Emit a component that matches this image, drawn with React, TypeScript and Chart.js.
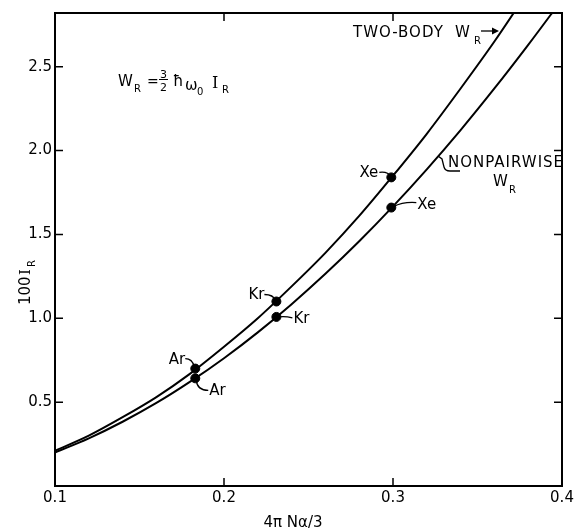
import React, { useEffect, useRef } from "react";
import { Chart, registerables } from "chart.js";

Chart.register(...registerables);

// Two-body W_R curve
const twoBodyX = [0.1, 0.12, 0.14, 0.16, 0.18, 0.2, 0.22, 0.24, 0.26, 0.28, 0.3, 0.32, 0.34, 0.36, 0.38];
const twoBodyY = [0.21, 0.3, 0.41, 0.53, 0.67, 0.83, 1.0, 1.19, 1.39, 1.61, 1.85, 2.1, 2.37, 2.65, 2.95];
// Nonpairwise W_R curve
const nonPairX = [0.1, 0.12, 0.14, 0.16, 0.18, 0.2, 0.22, 0.24, 0.26, 0.28, 0.3, 0.32, 0.34, 0.36, 0.38, 0.4];
const nonPairY = [0.2, 0.284, 0.383, 0.495, 0.622, 0.762, 0.916, 1.084, 1.265, 1.459, 1.667, 1.888, 2.122, 2.37, 2.63, 2.9];
// Rare gases
const gasNames = ["Ar", "Kr", "Xe"];
const gasX = [0.183, 0.231, 0.299];
const gasTwoBody = [0.7, 1.1, 1.84];
const gasNonPair = [0.642, 1.008, 1.66];
// Axes
const xTicks = [0.1, 0.2, 0.3, 0.4];
const yTicks = [0.5, 1.0, 1.5, 2.0, 2.5];
const xRange = [0.1, 0.4];
const yRange = [0, 2.82];

const SANS = "'DejaVu Sans', sans-serif";
const SERIF = "'DejaVu Serif', serif";

const annotations = {
  id: "annotations",
  afterDraw(chart: any) {
    const { ctx, chartArea: a, scales } = chart;
    const xs = scales.x;
    const ys = scales.y;
    ctx.save();
    ctx.strokeStyle = "#000";
    ctx.fillStyle = "#000";
    ctx.lineCap = "butt";

    // frame
    ctx.lineWidth = 2;
    ctx.strokeRect(a.left, a.top, a.right - a.left, a.bottom - a.top);

    // inward ticks on all four sides
    ctx.lineWidth = 1.5;
    const tl = 8;
    xTicks.forEach((v) => {
      const p = xs.getPixelForValue(v);
      ctx.beginPath();
      ctx.moveTo(p, a.bottom);
      ctx.lineTo(p, a.bottom - tl);
      ctx.moveTo(p, a.top);
      ctx.lineTo(p, a.top + tl);
      ctx.stroke();
    });
    yTicks.forEach((v) => {
      const p = ys.getPixelForValue(v);
      ctx.beginPath();
      ctx.moveTo(a.left, p);
      ctx.lineTo(a.left + tl, p);
      ctx.moveTo(a.right, p);
      ctx.lineTo(a.right - tl, p);
      ctx.stroke();
    });

    const txt = (s: string, x: number, y: number, size: number, family = SANS, align: CanvasTextAlign = "left", base: CanvasTextBaseline = "alphabetic") => {
      ctx.font = `${size}px ${family}`;
      ctx.textAlign = align;
      ctx.textBaseline = base;
      ctx.fillText(s, x, y);
    };

    // gas labels with leaders
    ctx.lineWidth = 1.3;
    const up = gasX.map((v, i) => [xs.getPixelForValue(v), ys.getPixelForValue(gasTwoBody[i])]);
    const lo = gasX.map((v, i) => [xs.getPixelForValue(v), ys.getPixelForValue(gasNonPair[i])]);

    // upper Ar
    {
      const [dx, dy] = up[0];
      txt(gasNames[0], dx - 10, dy - 5, 15, SANS, "right");
      ctx.beginPath();
      ctx.moveTo(dx - 10, dy - 10);
      ctx.quadraticCurveTo(dx - 3, dy - 10, dx - 1, dy - 2);
      ctx.stroke();
    }
    // lower Ar
    {
      const [dx, dy] = lo[0];
      txt(gasNames[0], dx + 14, dy + 17, 15, SANS, "left");
      ctx.beginPath();
      ctx.moveTo(dx + 1, dy + 2);
      ctx.quadraticCurveTo(dx + 2, dy + 12, dx + 13, dy + 12);
      ctx.stroke();
    }
    // upper Kr
    {
      const [dx, dy] = up[1];
      txt(gasNames[1], dx - 12, dy - 2, 15, SANS, "right");
      ctx.beginPath();
      ctx.moveTo(dx - 12, dy - 7);
      ctx.quadraticCurveTo(dx - 3, dy - 7, dx - 1, dy - 1);
      ctx.stroke();
    }
    // lower Kr
    {
      const [dx, dy] = lo[1];
      txt(gasNames[1], dx + 17, dy + 6, 15, SANS, "left");
      ctx.beginPath();
      ctx.moveTo(dx + 2, dy);
      ctx.quadraticCurveTo(dx + 9, dy - 1, dx + 16, dy + 1);
      ctx.stroke();
    }
    // upper Xe
    {
      const [dx, dy] = up[2];
      txt(gasNames[2], dx - 13, dy, 15, SANS, "right");
      ctx.beginPath();
      ctx.moveTo(dx - 12, dy - 5);
      ctx.quadraticCurveTo(dx - 3, dy - 6, dx - 1, dy - 1);
      ctx.stroke();
    }
    // lower Xe
    {
      const [dx, dy] = lo[2];
      txt(gasNames[2], dx + 26, dy + 1, 15, SANS, "left");
      ctx.beginPath();
      ctx.moveTo(dx + 2, dy - 1);
      ctx.quadraticCurveTo(dx + 12, dy - 6, dx + 25, dy - 5);
      ctx.stroke();
    }

    // formula W_R = 3/2 ħ ω0 I_R
    {
      const L = a.left + 63;
      const B = a.top + 73;
      txt("W", L, B, 15);
      txt("R", L + 16, B + 6, 10);
      txt("=", L + 29, B, 14);
      txt("3", L + 42, B - 8, 11);
      ctx.lineWidth = 1;
      ctx.beginPath();
      ctx.moveTo(L + 41, B - 6.5);
      ctx.lineTo(L + 50, B - 6.5);
      ctx.stroke();
      txt("2", L + 42, B + 5, 11);
      txt("ħ", L + 55, B, 15);
      txt("ω", L + 67, B + 4, 15);
      txt("0", L + 79, B + 9, 10);
      txt("I", L + 94, B + 2, 16, SERIF);
      txt("R", L + 104, B + 7, 10);
    }

    ctx.save();
    (ctx as any).letterSpacing = "1px";
    // TWO-BODY W_R ->
    {
      const L = a.left + 298;
      const B = a.top + 24;
      txt("TWO-BODY", L, B, 15);
      txt("W", L + 102, B, 15);
      txt("R", L + 121, B + 7, 10);
      ctx.lineWidth = 1.3;
      ctx.beginPath();
      ctx.moveTo(L + 128, B - 6);
      ctx.lineTo(L + 144, B - 6);
      ctx.stroke();
      ctx.beginPath();
      ctx.moveTo(L + 146, B - 6);
      ctx.lineTo(L + 139, B - 9.5);
      ctx.lineTo(L + 139, B - 2.5);
      ctx.closePath();
      ctx.fill();
    }
    // NONPAIRWISE W_R
    {
      const L = a.left + 393;
      const B = a.top + 154;
      txt("NONPAIRWISE", L, B, 15);
      txt("W", L + 45, B + 19, 15);
      txt("R", L + 61, B + 26, 10);
      ctx.lineWidth = 1.3;
      ctx.beginPath();
      ctx.moveTo(L - 10, B - 11);
      ctx.lineTo(L - 6, B - 8);
      ctx.lineTo(L - 4, B);
      ctx.quadraticCurveTo(L - 3, B + 4, L + 2, B + 4);
      ctx.lineTo(L + 12, B + 4);
      ctx.stroke();
    }
    ctx.restore();

    // axis titles
    txt("4π Nα/3", a.left + 238, a.bottom + 41, 15, SANS, "center");
    {
      ctx.save();
      ctx.translate(a.left - 30, a.top + 268);
      ctx.rotate(-Math.PI / 2);
      txt("100", -24, 5, 15);
      txt("I", 6, 5, 15, SERIF);
      txt("R", 14, 10, 10);
      ctx.restore();
    }

    ctx.restore();
  },
};

export default function App() {
  const ref = useRef<HTMLCanvasElement | null>(null);
  useEffect(() => {
    if (!ref.current) return;
    const chart = new Chart(ref.current, {
      type: "line",
      data: {
        datasets: [
          {
            label: "Two-body",
            data: twoBodyX.map((x, i) => ({ x, y: twoBodyY[i] })),
            borderColor: "#000",
            borderWidth: 2,
            pointRadius: 0,
            cubicInterpolationMode: "monotone",
            fill: false,
          },
          {
            label: "Nonpairwise",
            data: nonPairX.map((x, i) => ({ x, y: nonPairY[i] })),
            borderColor: "#000",
            borderWidth: 2,
            pointRadius: 0,
            cubicInterpolationMode: "monotone",
            fill: false,
          },
          {
            label: "Gases two-body",
            data: gasX.map((x, i) => ({ x, y: gasTwoBody[i] })),
            showLine: false,
            pointRadius: 4.5,
            pointBackgroundColor: "#000",
            pointBorderColor: "#000",
          },
          {
            label: "Gases nonpairwise",
            data: gasX.map((x, i) => ({ x, y: gasNonPair[i] })),
            showLine: false,
            pointRadius: 4.5,
            pointBackgroundColor: "#000",
            pointBorderColor: "#000",
          },
        ],
      },
      options: {
        animation: false,
        responsive: true,
        maintainAspectRatio: false,
        layout: { padding: { top: 13, right: 12, left: 0, bottom: 0 } },
        plugins: { legend: { display: false }, tooltip: { enabled: false } },
        scales: {
          x: {
            type: "linear",
            min: xRange[0],
            max: xRange[1],
            grid: { display: false, drawTicks: false },
            border: { display: false },
            afterBuildTicks: (s: any) => {
              s.ticks = xTicks.map((v) => ({ value: v }));
            },
            afterFit: (s: any) => {
              s.height = 43;
              s.paddingLeft = 0;
              s.paddingRight = 0;
            },
            ticks: {
              color: "#000",
              padding: 3,
              maxRotation: 0,
              font: { family: SANS, size: 15 },
              callback: (v: any) => Number(v).toFixed(1),
            },
          },
          y: {
            type: "linear",
            min: yRange[0],
            max: yRange[1],
            grid: { display: false, drawTicks: false },
            border: { display: false },
            afterBuildTicks: (s: any) => {
              s.ticks = yTicks.map((v) => ({ value: v }));
            },
            afterFit: (s: any) => {
              s.width = 55;
              s.paddingTop = 0;
              s.paddingBottom = 0;
            },
            ticks: {
              color: "#000",
              padding: 3,
              font: { family: SANS, size: 15 },
              callback: (v: any) => Number(v).toFixed(1),
            },
          },
        },
      },
      plugins: [annotations],
    } as any);
    return () => chart.destroy();
  }, []);
  return (
    <div style={{ position: "absolute", left: 0, top: 0, width: 574, height: 529, background: "#fff" }}>
      <canvas ref={ref} />
    </div>
  );
}
